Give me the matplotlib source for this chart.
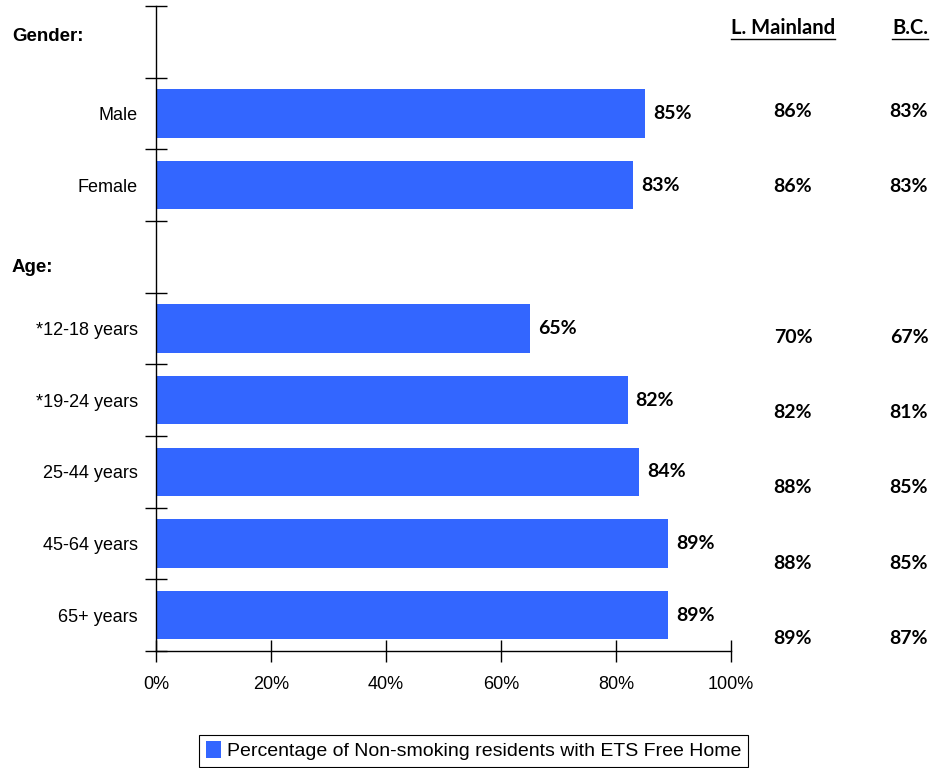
import numpy as np
import matplotlib.pyplot as plt
from matplotlib.patches import Patch

narrow = ['Liberation Sans Narrow', 'Liberation Sans', 'DejaVu Sans']
plt.rcParams['font.family'] = narrow

# rows of the chart, headers have no bar
rows = ['Gender:', 'Male', 'Female', 'Age:', '*12-18 years', '*19-24 years',
        '25-44 years', '45-64 years', '65+ years']
is_header = [True, False, False, True, False, False, False, False, False]
local = [None, 85, 83, None, 65, 82, 84, 89, 89]
mainland = [None, 86, 86, None, 70, 82, 88, 88, 89]
bc = [None, 83, 83, None, 67, 81, 85, 85, 87]
col_titles = ['L. Mainland', 'B.C.']
legend_label = 'Percentage of Non-smoking residents with ETS Free Home'
bar_color = '#3366FF'

fig = plt.figure(figsize=(9.34, 7.68), dpi=100)
ax = fig.add_axes([156/934, 1-651/768, (731-156)/934, (651-6)/768])

idx = np.arange(len(rows))
bar_rows = [i for i in idx if not is_header[i]]
vals = [local[i] for i in bar_rows]
ax.barh(bar_rows, vals, height=0.67, color=bar_color)

ax.set_xlim(0, 100)
ax.set_ylim(len(rows) - 0.5, -0.5)

for sp in ['top', 'right']:
    ax.spines[sp].set_visible(False)
ax.spines['left'].set_linewidth(1.0)
ax.spines['bottom'].set_linewidth(1.0)

ax.set_xticks(np.arange(0, 101, 20))
ax.set_xticklabels([f'{v}%' for v in range(0, 101, 20)], fontsize=13)
ax.tick_params(axis='x', direction='inout', length=16, width=1, pad=10)

ax.set_yticks(np.arange(-0.5, len(rows), 1.0))
ax.set_yticklabels([])
ax.tick_params(axis='y', which='major', direction='inout', length=16, width=1)
ax.set_yticks(bar_rows, minor=True)
ax.set_yticklabels([rows[i] for i in bar_rows], minor=True, fontsize=13)
ax.tick_params(axis='y', which='minor', length=0, pad=13)

tr = ax.get_yaxis_transform()

# header rows at the far left
head_shift = {0: -0.08, 3: 0.15}
for i in idx:
    if is_header[i]:
        ax.text((12 - 156) / (731 - 156), i + head_shift[i], rows[i], transform=tr,
                fontsize=13.5, fontweight='bold', ha='left', va='center',
                family=['Liberation Sans', 'DejaVu Sans'], clip_on=False)

lab_font = ['Lato', 'DejaVu Sans']
for i in bar_rows:
    ax.text(local[i] + 1.4, i, f'{local[i]}%', fontsize=14, fontweight='bold',
            va='center', ha='left', family=lab_font)

# comparison columns outside the axes
xm = (793 - 156) / (731 - 156)
xb = (909 - 156) / (731 - 156)
for i in bar_rows:
    dy = 0.05 * (i - 1.5)
    ax.text(xm, i + dy, f'{mainland[i]}%', transform=tr, fontsize=14,
            fontweight='bold', ha='center', va='center', family=lab_font,
            clip_on=False)
    ax.text(xb, i + dy, f'{bc[i]}%', transform=tr, fontsize=14,
            fontweight='bold', ha='center', va='center', family=lab_font,
            clip_on=False)

heads = []
for x, t in zip([(783 - 156) / (731 - 156), (910 - 156) / (731 - 156)], col_titles):
    heads.append(ax.text(x, -0.2, t, transform=tr, fontsize=14.5, fontweight='bold',
                         ha='center', va='center', family=lab_font, clip_on=False))

fig.canvas.draw()
r = fig.canvas.get_renderer()
for tt in heads:
    bb = tt.get_window_extent(r)
    fig.lines.append(plt.Line2D([bb.x0 / fig.bbox.width, bb.x1 / fig.bbox.width],
                                [(bb.y0 - 1) / fig.bbox.height] * 2,
                                transform=fig.transFigure, color='black', lw=1))

leg = fig.legend(handles=[Patch(facecolor=bar_color, edgecolor='none')],
                 labels=[legend_label], loc='lower left',
                 bbox_to_anchor=(199/934, 1/768), fontsize=14,
                 fancybox=False, framealpha=1, edgecolor='black',
                 handlelength=0.8, handleheight=0.9, handletextpad=0.3,
                 borderpad=0.35, borderaxespad=0)
leg.get_frame().set_linewidth(0.8)

fig.savefig('out.png', dpi=100)
